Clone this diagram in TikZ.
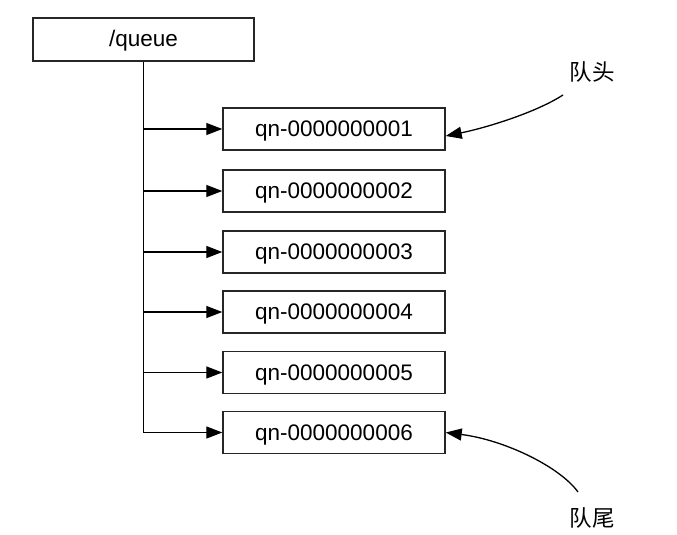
\documentclass[tikz,border=0pt]{standalone}
\usepackage{fontspec}
\setmainfont{Liberation Sans}
\newfontfamily\cjk{Noto Sans CJK SC}
\usetikzlibrary{arrows.meta}
\begin{document}
\begin{tikzpicture}[x=1pt,y=-1pt,
  box/.style={draw=black!85, line width=1.4pt, fill=white, minimum width=222pt, minimum height=42pt, inner sep=0pt, text height=15pt, text depth=0pt, font=\fontsize{22.5}{26}\selectfont},
  arr/.style={line width=1.3pt, -{Triangle[length=16pt,width=12pt]}},
  lab/.style={font=\cjk\fontsize{22.5}{26}\selectfont, inner sep=0pt}]
\useasboundingbox (0,0) rectangle (677,535);
\node[box, minimum width=221pt, minimum height=43pt] (q) at (143.5,39.5) {/queue};
\node[box] (n1) at (334,129) {qn-0000000001};
\node[box] (n2) at (334,191) {qn-0000000002};
\node[box] (n3) at (334,252) {qn-0000000003};
\node[box] (n4) at (334,312) {qn-0000000004};
\node[box] (n5) at (334,372.5) {qn-0000000005};
\node[box] (n6) at (334,432.5) {qn-0000000006};
\draw[arr] (q.south) |- (n6.west);
\foreach \i in {1,...,5}{
  \draw[arr] (q.south |- n\i.west) -- (n\i.west);
}
\node[lab] (head) at (592,72) {队头};
\node[lab] (tail) at (592,518) {队尾};
\coordinate (hs) at (563,95);
\coordinate (ts) at (578,492);
\draw[arr] (hs) .. controls (535,113) and (485,128) .. ([yshift=-7pt]n1.east);
\draw[arr] (ts) .. controls (560,467) and (505,440) .. (n6.east);
\end{tikzpicture}
\end{document}
